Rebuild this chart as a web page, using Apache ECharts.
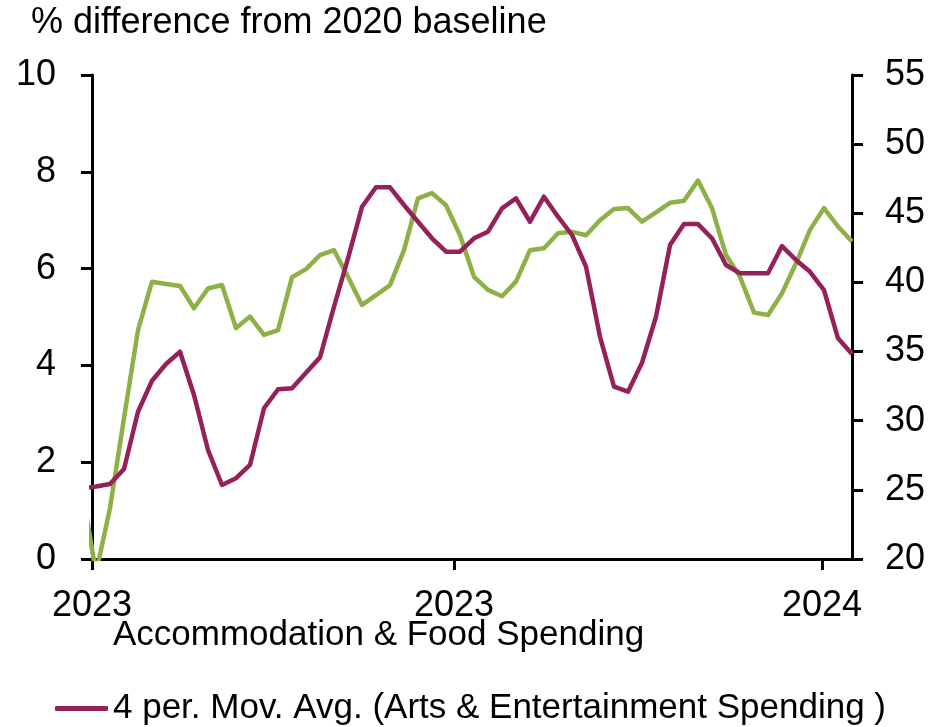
<!DOCTYPE html>
<html>
<head>
<meta charset="utf-8">
<script src="https://cdn.jsdelivr.net/npm/echarts@6/dist/echarts.min.js"></script>
<style>
  html, body { margin: 0; padding: 0; background: #fff; }
  #chart { width: 943px; height: 727px; }
</style>
</head>
<body>
<div id="chart"></div>
<script>
// Weekly observations, first week starts 2022-12-27
const firstWeek = Date.UTC(2022, 11, 27);
const weekMs = 7 * 24 * 3600 * 1000;

// Accommodation & Food Spending, % difference from 2020 baseline (left axis)
const accomFood = [1.45, -0.29, 1.05, 2.91, 4.73, 5.73, 5.68, 5.64, 5.18, 5.59,
  5.66, 4.77, 5.01, 4.63, 4.73, 5.82, 5.99, 6.28, 6.38, 5.83,
  5.25, 5.45, 5.66, 6.38, 7.45, 7.56, 7.31, 6.69, 5.83, 5.56,
  5.43, 5.73, 6.38, 6.42, 6.73, 6.76, 6.69, 7.00, 7.23, 7.25,
  6.97, 7.16, 7.36, 7.40, 7.82, 7.25, 6.28, 5.83, 5.09, 5.04,
  5.49, 6.11, 6.80, 7.25, 6.87, 6.56];

// 4-period moving average of Arts & Entertainment Spending (right axis)
const artsEnt = [25.1, 25.24, 25.42, 26.51, 30.65, 32.89, 34.10, 34.99, 31.86, 27.88,
  25.35, 25.84, 26.80, 30.90, 32.27, 32.34, 33.47, 34.58, 38.24, 41.74,
  45.47, 46.88, 46.88, 45.60, 44.39, 43.19, 42.22, 42.22, 43.19, 43.67,
  45.36, 46.08, 44.39, 46.20, 44.75, 43.43, 41.14, 36.07, 32.46, 32.10,
  34.19, 37.52, 42.70, 44.22, 44.22, 43.19, 41.26, 40.66, 40.66, 40.66,
  42.63, 41.62, 40.77, 39.45, 35.96, 34.82];

const weeks = accomFood.map((_, i) => firstWeek + i * weekMs);

// Axis range and labelled dates (timestamps on a linear axis)
const xStart = Date.UTC(2023, 0, 1);
const xEnd = Date.UTC(2024, 0, 16);
const xTickDates = [Date.UTC(2023, 0, 1), Date.UTC(2023, 6, 1), Date.UTC(2024, 0, 1)];

const leftTicks = { min: 0, max: 10, step: 2 };
const rightTicks = { min: 20, max: 55, step: 5 };

const nameAccom = 'Accommodation & Food Spending';
const nameArts = '4 per. Mov. Avg. (Arts & Entertainment Spending )';

const GREEN = '#8DB146';
const PLUM = '#95205A';
const FONT = '"Liberation Sans", Arial, sans-serif';
const FS = 36;
const FS_LEGEND = 35;

const chart = echarts.init(document.getElementById('chart'), null, { renderer: 'canvas' });

chart.setOption({
  animation: false,
  backgroundColor: '#ffffff',
  textStyle: { fontFamily: FONT, color: '#000' },
  title: {
    text: '% difference from 2020 baseline',
    left: 26,
    top: 0,
    textStyle: { fontFamily: FONT, fontSize: FS, fontWeight: 'normal', color: '#000' }
  },
  grid: { left: 92, right: 91, top: 75, bottom: 168, containLabel: false },
  legend: [
    {
      data: [{ name: nameAccom, icon: 'rect' }],
      left: 50,
      top: 613,
      itemWidth: 53,
      itemHeight: 5,
      itemGap: 5,
      selectedMode: false,
      itemStyle: { opacity: 0 },
      lineStyle: { opacity: 0 },
      textStyle: { fontFamily: FONT, fontSize: FS_LEGEND, color: '#000' }
    },
    {
      data: [{ name: nameArts, icon: 'roundRect' }],
      left: 50,
      top: 686,
      itemWidth: 53,
      itemHeight: 5,
      itemGap: 5,
      selectedMode: false,
      itemStyle: { color: PLUM },
      textStyle: { fontFamily: FONT, fontSize: FS_LEGEND, color: '#000' }
    }
  ],
  xAxis: {
    type: 'value',
    min: xStart,
    max: xEnd,
    splitLine: { show: false },
    axisLine: { show: true, lineStyle: { color: '#000', width: 3 } },
    axisTick: { show: true, length: 11, lineStyle: { color: '#000', width: 3 }, customValues: xTickDates },
    axisLabel: {
      customValues: xTickDates,
      formatter: v => String(new Date(v).getUTCFullYear()),
      fontFamily: FONT, fontSize: FS, color: '#000', margin: 29
    }
  },
  yAxis: [
    {
      type: 'value',
      position: 'left',
      min: leftTicks.min, max: leftTicks.max, interval: leftTicks.step,
      splitLine: { show: false },
      axisLine: { show: true, lineStyle: { color: '#000', width: 3 } },
      axisTick: { show: true, length: 11, lineStyle: { color: '#000', width: 3 } },
      axisLabel: { fontFamily: FONT, fontSize: FS, color: '#000', margin: 36 }
    },
    {
      type: 'value',
      position: 'right',
      min: rightTicks.min, max: rightTicks.max, interval: rightTicks.step,
      splitLine: { show: false },
      axisLine: { show: true, lineStyle: { color: '#000', width: 3 } },
      axisTick: { show: true, length: 11, lineStyle: { color: '#000', width: 3 } },
      axisLabel: { fontFamily: FONT, fontSize: FS, color: '#000', margin: 33 }
    }
  ],
  series: [
    {
      name: nameAccom,
      type: 'line',
      yAxisIndex: 0,
      data: weeks.map((t, i) => [t, accomFood[i]]),
      symbol: 'none',
      clip: true,
      lineStyle: { color: GREEN, width: 4.5, join: 'round' },
      itemStyle: { color: GREEN },
      z: 2
    },
    {
      name: nameArts,
      type: 'line',
      yAxisIndex: 1,
      data: weeks.map((t, i) => [t, artsEnt[i]]),
      symbol: 'none',
      clip: true,
      lineStyle: { color: PLUM, width: 4.5, join: 'round' },
      itemStyle: { color: PLUM },
      z: 3
    }
  ]
});
</script>
</body>
</html>
